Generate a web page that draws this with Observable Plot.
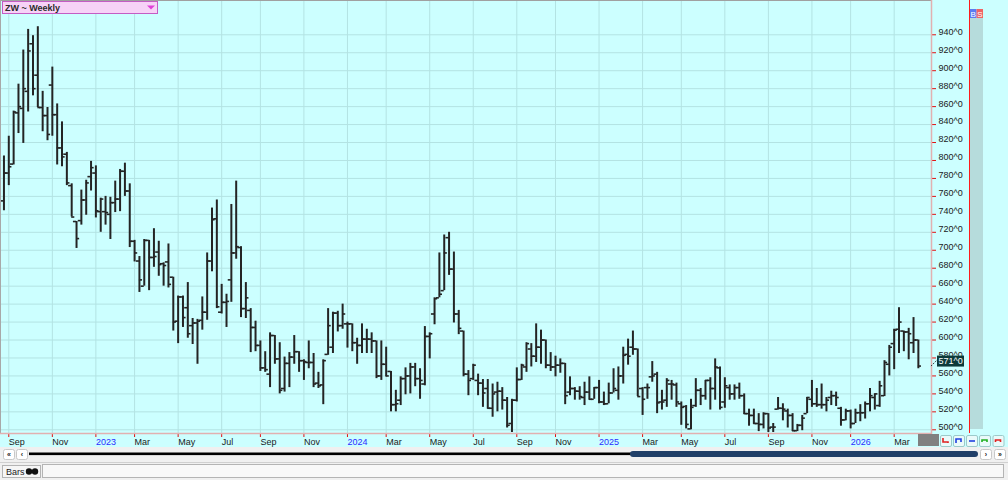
<!DOCTYPE html>
<html><head><meta charset="utf-8">
<script src="https://cdn.jsdelivr.net/npm/d3@7"></script>
<script src="https://cdn.jsdelivr.net/npm/@observablehq/plot@0.6"></script>
<style>
body{margin:0;background:#f0f0f0;}
#wrap{position:relative;width:1008px;height:480px;overflow:hidden;}
</style></head><body><div id="wrap"></div>
<script>
// Weekly OHLC bars (Friday-dated), first bar = week ending 2022-08-26
const firstWeek = "2022-08-26";
const openP = [
755,786,796,853,858,877,930,895,859,850,
884,851,814,807,772,732,733,756,782,786,
743,743,740,753,757,788,766,710,688,660,
711,692,698,685,687,670,621,648,636,616,
619,622,631,688,735,631,642,667,697,703,
635,633,614,594,569,562,605,579,546,574,
581,587,577,575,575,552,550,584,592,630,
616,618,618,597,594,601,601,599,560,573,
565,528,533,557,560,570,557,551,604,629,
647,655,714,679,629,610,562,557,555,552,
546,524,542,543,533,507,533,556,570,590,
582,592,600,572,570,572,574,542,546,543,
536,542,534,547,531,529,541,544,560,584,
592,590,546,547,559,562,531,533,551,550,
529,526,501,527,544,538,555,546,569,531,
547,540,547,538,518,516,507,506,518,503,
523,524,521,516,499,505,518,534,529,528,
528,536,538,524,511,521,507,519,519,529,
536,527,538,573,596,612,610,609,597,600];
const highP = [
805,827,855,885,923,946,939,949,877,859,
904,863,843,809,774,732,767,778,799,794,
758,760,759,777,790,797,774,711,693,712,
711,724,710,686,707,670,649,649,664,624,
623,648,697,747,756,662,651,751,777,704,
664,635,621,599,587,608,605,597,581,586,
605,587,578,599,585,564,578,635,631,632,
640,620,618,602,618,612,608,599,599,592,
565,544,559,569,574,574,568,615,608,647,
697,717,720,698,633,610,566,573,562,556,
556,551,553,547,536,534,569,573,597,596,
618,611,600,586,582,579,574,559,547,548,
553,559,547,555,542,552,568,570,592,601,
610,590,547,551,576,564,544,557,555,552,
531,527,534,557,546,555,558,579,570,558,
550,550,552,540,523,523,518,519,518,507,
536,529,523,518,506,516,536,555,546,551,
536,543,542,525,523,522,523,528,531,546,
540,554,577,594,612,636,610,613,625,600];
const lowP = [
744,772,795,830,819,854,872,859,832,822,
827,795,793,772,737,702,728,739,766,736,
720,728,712,742,743,760,703,687,653,660,
655,681,671,660,658,610,596,614,602,595,
573,611,622,676,635,629,614,642,690,625,
624,586,587,565,564,547,573,540,542,547,
573,564,555,568,547,546,528,583,585,609,
612,591,587,573,585,585,585,557,555,559,
520,520,527,539,540,548,534,549,579,617,
647,655,672,619,606,559,538,555,538,525,
523,514,520,522,502,497,531,555,564,570,
575,573,568,565,559,563,528,538,533,533,
527,533,534,529,527,529,541,533,551,572,
583,537,516,534,553,518,522,525,533,525,
505,501,500,525,527,533,522,533,522,524,
533,533,534,517,504,506,498,501,497,497,
522,510,502,498,498,499,518,525,525,523,
520,527,526,504,510,501,507,509,512,520,
522,525,537,560,567,585,587,578,585,568];
const closeP = [
786,793,854,860,880,922,880,859,850,829,
851,814,804,775,737,713,756,775,792,744,
757,742,753,757,788,766,710,697,667,711,
692,693,684,683,662,620,648,625,607,619,
621,631,688,734,637,642,643,697,704,635,
647,614,594,569,567,605,579,544,574,581,
587,577,576,575,551,549,577,616,630,616,
629,618,597,594,601,601,599,560,573,560,
528,529,557,560,570,557,555,604,607,646,
651,697,679,629,613,562,555,572,552,541,
524,540,543,533,505,533,556,572,596,582,
592,600,572,570,572,574,538,546,543,537,
542,534,547,531,529,541,546,560,583,582,
590,537,534,547,560,530,531,555,551,531,
525,506,525,544,538,555,546,570,525,549,
540,547,538,518,516,507,506,518,502,503,
524,523,516,499,505,513,536,529,528,528,
533,538,536,511,521,507,519,519,529,538,
540,549,575,592,611,620,609,607,600,571];

const xTickDates = ["2022-09-02","2022-11-04","2023-01-06","2023-03-03","2023-05-05","2023-07-07","2023-09-01","2023-11-03","2024-01-05","2024-03-01","2024-05-03","2024-07-05","2024-09-06","2024-11-01","2025-01-03","2025-03-07","2025-05-02","2025-07-04","2025-09-05","2025-11-07","2026-01-02","2026-03-06"];
const xTickLabels = ["Sep","Nov","2023","Mar","May","Jul","Sep","Nov","2024","Mar","May","Jul","Sep","Nov","2025","Mar","May","Jul","Sep","Nov","2026","Mar"];
const yTicks = [500,520,540,560,580,600,620,640,660,680,700,720,740,760,780,800,820,840,860,880,900,920,940];
const symbolTitle = "ZW ~ Weekly";

const start = new Date(firstWeek + "T00:00:00Z");
const bars = openP.map((o, i) => ({
  date: d3.utcDay.offset(start, 7 * i),
  open: o, high: highP[i], low: lowP[i], close: closeP[i]
}));
const tickDates = xTickDates.map(s => new Date(s + "T00:00:00Z"));
const labelOf = new Map(tickDates.map((d, i) => [+d, xTickLabels[i]]));
const isYear = d => /^\d{4}$/.test(labelOf.get(+d));
const monthTicks = tickDates.filter(d => !isYear(d));
const yearTicks = tickDates.filter(d => isYear(d));

const GRID = "#b3e3e3", BAR = "#242424", RED = "#e01010";
const FONT = "'Liberation Sans', Arial, sans-serif";
const tickOff = 4.5 * 24; // hours

const plot = Plot.plot({
  width: 1008, height: 480,
  marginTop: 0, marginLeft: 0, marginRight: 77, marginBottom: 47,
  style: {background: "#ccffff", fontFamily: FONT, fontSize: "9px", color: "#1a1a1a"},
  x: {type: "utc", domain: [new Date("2022-08-21T00:00:00Z"), new Date("2026-04-29T00:00:00Z")], axis: null},
  y: {domain: [495.88, 978.2], axis: null},
  marks: [
    Plot.gridY(yTicks, {stroke: GRID, strokeOpacity: 1}),
    Plot.gridX(tickDates, {stroke: GRID, strokeOpacity: 1}),
    Plot.ruleX(bars, {x: "date", y1: "low", y2: "high", stroke: BAR, strokeWidth: 2}),
    Plot.ruleY(bars, {y: "open", x1: d => d3.utcHour.offset(d.date, -tickOff), x2: "date", stroke: BAR, strokeWidth: 1.6}),
    Plot.ruleY(bars, {y: "close", x1: "date", x2: d => d3.utcHour.offset(d.date, tickOff), stroke: BAR, strokeWidth: 1.6}),
    Plot.axisY(yTicks, {anchor: "right", tickSize: 4, stroke: RED, fill: "none", tickFormat: null}),
    Plot.axisY(yTicks, {anchor: "right", tickSize: 0, tickPadding: 7, fill: "#1a1a1a", dy: -3, fontSize: 9, tickFormat: d => d + "^0"}),
    Plot.axisX(monthTicks, {anchor: "bottom", tickSize: 4, tickPadding: 1, stroke: RED, fill: "#1a1a1a", textAnchor: "start", fontSize: 9, tickFormat: d => labelOf.get(+d)}),
    Plot.axisX(yearTicks, {anchor: "bottom", tickSize: 4, tickPadding: 1, stroke: RED, fill: "#2b2bff", textAnchor: "start", fontSize: 9, tickFormat: d => labelOf.get(+d)})
  ]
});
document.getElementById("wrap").appendChild(plot);

// chrome overlay
const svg = d3.select(plot);
const yS = plot.scale("y"), xS = plot.scale("x");
const g = svg.append("g").attr("font-family", FONT).attr("text-anchor", "start");

// lower panel background
g.append("rect").attr("x", 0).attr("y", 447).attr("width", 1008).attr("height", 33).attr("fill", "#f0f0f0");
// frame lines
g.append("line").attr("x1", 0).attr("x2", 931).attr("y1", 0.5).attr("y2", 0.5).attr("stroke", "#a0a0a0");
g.append("line").attr("x1", 0.5).attr("x2", 0.5).attr("y1", 0).attr("y2", 433).attr("stroke", "#a8a8a8");
g.append("line").attr("x1", 0).attr("x2", 931).attr("y1", 433.5).attr("y2", 433.5).attr("stroke", "#e2b0b0").attr("stroke-width", 1.5);
g.append("line").attr("x1", 931.5).attr("x2", 931.5).attr("y1", 0).attr("y2", 434).attr("stroke", "#e2b0b0").attr("stroke-width", 1.5);
g.append("line").attr("x1", 969.5).attr("x2", 969.5).attr("y1", 0).attr("y2", 433).attr("stroke", "#ff1a1a");
g.append("rect").attr("x", 970).attr("y", 18).attr("width", 13).attr("height", 411).attr("fill", "#b6dcdc");
g.append("rect").attr("x", 970).attr("y", 9).attr("width", 6.5).attr("height", 9).attr("fill", "#5c7cf2");
g.append("rect").attr("x", 976.5).attr("y", 9).attr("width", 6.5).attr("height", 9).attr("fill", "#f06464");
g.append("text").attr("x", 973.2).attr("y", 16.5).attr("text-anchor", "middle").attr("font-size", 8).attr("fill", "#fff").text("B");
g.append("text").attr("x", 979.8).attr("y", 16.5).attr("text-anchor", "middle").attr("font-size", 8).attr("fill", "#fff").text("S");

// header
g.append("rect").attr("x", 2.5).attr("y", 1.5).attr("width", 155).attr("height", 12).attr("fill", "#f7d2f7").attr("stroke", "#c45cc4");
g.append("text").attr("x", 5).attr("y", 11).attr("font-size", 9).attr("font-weight", "bold").attr("fill", "#2a2a2a").text(symbolTitle);
g.append("path").attr("d", "M147,5.5 L155,5.5 L151,9.5 Z").attr("fill", "#e040d8");

// last price marker
const lastClose = closeP[closeP.length - 1];
const ly = yS.apply(lastClose);
g.append("line").attr("x1", 931).attr("y1", ly + 0.5).attr("x2", 937).attr("y2", ly - 5.5)
  .attr("stroke", "#333").attr("stroke-dasharray", "1.5,1.2");
g.append("rect").attr("x", 937).attr("y", ly - 10).attr("width", 27).attr("height", 11).attr("fill", "#0c3a3a");
g.append("text").attr("x", 938.5).attr("y", ly - 1.8).attr("font-size", 9).attr("fill", "#ffffff").text(lastClose + "^0");

// bottom-right controls
g.append("rect").attr("x", 918).attr("y", 434).attr("width", 21).attr("height", 12).attr("fill", "#808080");
const btnColors = ["#e02020", "#2040e0", "#2040e0", "#20b020", "#e02020"];
const btnX = [940, 953, 966, 979, 992.5];
btnX.forEach((bx, i) => {
  g.append("rect").attr("x", bx + 0.5).attr("y", 435.5).attr("width", 11).attr("height", 11).attr("rx", 1.5)
    .attr("fill", "#eafafa").attr("stroke", "#9ccaca");
  const c = btnColors[i];
  const paths = [
    `M${bx+3},${438} V${442} H${bx+8} V${443}`,
    `M${bx+3},${443} V${439} H${bx+8} V${442}`,
    `M${bx+3},${441} H${bx+9}`,
    `M${bx+3},${442} V${440} H${bx+8} V${442}`,
    `M${bx+3},${442} V${440} H${bx+8} V${442}`
  ];
  g.append("path").attr("d", paths[i]).attr("fill", "none").attr("stroke", c).attr("stroke-width", 1.6);
});

// scroll row
function btn(x, label) {
  g.append("rect").attr("x", x + 0.5).attr("y", 449.5).attr("width", 11).attr("height", 10).attr("rx", 2)
    .attr("fill", "#ffffff").attr("stroke", "#c8c8c8");
  g.append("text").attr("x", x + 6).attr("y", 457).attr("text-anchor", "middle").attr("font-size", 7).attr("font-weight", "bold").attr("fill", "#222").text(label);
}
btn(3, "«"); btn(16, "‹"); btn(980, "›"); btn(994, "»");
g.append("rect").attr("x", 29).attr("y", 452.5).attr("width", 604).attr("height", 2.6).attr("fill", "#000");
g.append("rect").attr("x", 630).attr("y", 451).attr("width", 348).attr("height", 6).attr("rx", 3).attr("fill", "#203f68");

// bottom tab row
g.append("line").attr("x1", 0).attr("x2", 1008).attr("y1", 462.5).attr("y2", 462.5).attr("stroke", "#d0d0d0");
g.append("rect").attr("x", 2.5).attr("y", 465.5).attr("width", 38).attr("height", 12).attr("fill", "#f6f6f6").attr("stroke", "#b4b4b4");
g.append("text").attr("x", 6).attr("y", 475).attr("font-size", 9).attr("fill", "#222").text("Bars");
g.append("circle").attr("cx", 29).attr("cy", 471.5).attr("r", 3.2).attr("fill", "#111");
g.append("circle").attr("cx", 35).attr("cy", 471.5).attr("r", 3.2).attr("fill", "#111");
g.append("rect").attr("x", 42.5).attr("y", 464.5).attr("width", 961).attr("height", 13).attr("fill", "#f8f8f8").attr("stroke", "#b4b4b4");
</script>
</body></html>
